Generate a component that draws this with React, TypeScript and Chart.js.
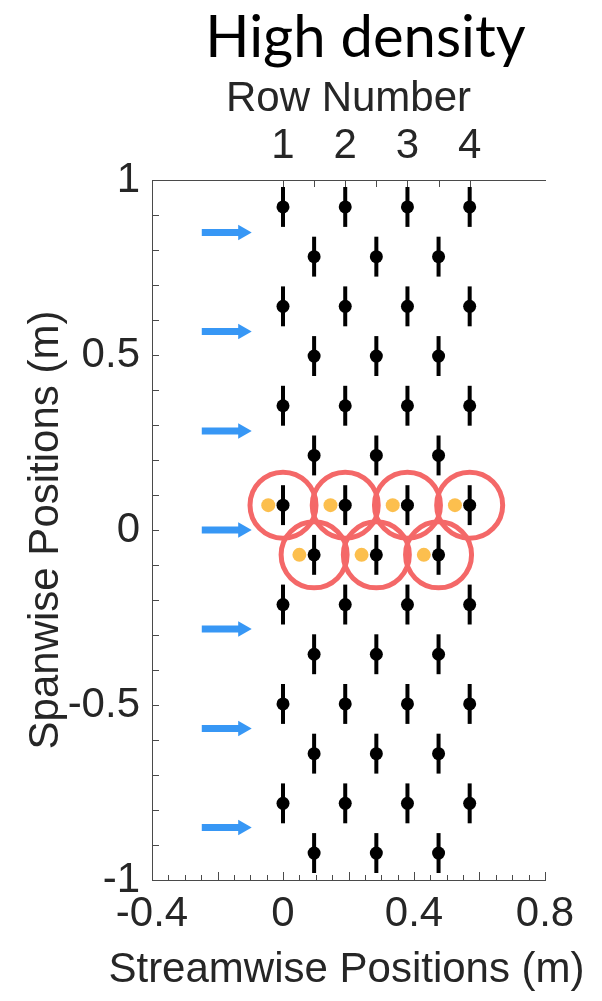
import React, { useEffect, useRef } from "react";
import { Chart, registerables } from "chart.js";

Chart.register(...registerables);

// ---- data ----
const TITLE = "High density";
const TOP_AXIS_TITLE = "Row Number";
const X_AXIS_TITLE = "Streamwise Positions (m)";
const Y_AXIS_TITLE = "Spanwise Positions (m)";

const MAIN_COL_X = [0, 0.19, 0.38, 0.57];
const OFFSET_COL_X = [0.095, 0.285, 0.475];
const MAIN_ROW_Y = [0.923, 0.639, 0.355, 0.071, -0.213, -0.497, -0.781];
const OFFSET_ROW_Y = [0.781, 0.497, 0.213, -0.071, -0.355, -0.639, -0.923];
const BAR_HALF = 0.057;

const ROW_NUMBERS = ["1", "2", "3", "4"];

const ARROW_Y = [0.85, 0.567, 0.283, 0, -0.283, -0.567, -0.85];
const ARROW_X_START = -0.248;
const ARROW_X_SHAFT_END = -0.128;
const ARROW_X_HEAD = -0.123;

const RING_TOP_X = [0, 0.19, 0.38, 0.57];
const RING_TOP_Y = 0.071;
const RING_BOTTOM_X = [0.095, 0.285, 0.475];
const RING_BOTTOM_Y = -0.071;

const YELLOW_TOP_X = [-0.045, 0.145, 0.335, 0.525];
const YELLOW_BOTTOM_X = [0.05, 0.24, 0.43];

const X_MIN = -0.4;
const X_MAX = 0.8;
const Y_MIN = -1;
const Y_MAX = 1;

const X_TICK_VALUES = [-0.4, 0, 0.4, 0.8];
const X_TICK_LABELS = ["-0.4", "0", "0.4", "0.8"];
const Y_TICK_VALUES = [-1, -0.5, 0, 0.5, 1];
const Y_TICK_LABELS = ["-1", "-0.5", "0", "0.5", "1"];

// minor tick grids (every 0.05 on x, 0.1 on y)
const X_MINOR = Array.from({ length: 25 }, (_, i) => (i - 8) / 20);
const Y_MINOR = Array.from({ length: 21 }, (_, i) => (i - 10) / 10);

// ---- style ----
const FONT_FAMILY = "Liberation Sans";
const FONT_SIZE = 42;
const TEXT_COLOR = "#262626";
const AXIS_COLOR = "#4a4a4a";
const BLUE = "#3797f5";
const RED = "#f46868";
const YELLOW = "#fcbf4e";

const near = (a: number, b: number) => Math.abs(a - b) < 1e-9;
const isMultiple = (v: number, step: number) => Math.abs(v / step - Math.round(v / step)) < 1e-6;

const decorations = {
  id: "decorations",
  afterDraw(chart: any) {
    const { ctx, chartArea } = chart;
    const { left, right, top, bottom } = chartArea;
    const xs = chart.scales.x;
    const ys = chart.scales.y;
    const x2 = chart.scales.x2;
    ctx.save();
    // inward tick marks
    ctx.strokeStyle = AXIS_COLOR;
    ctx.lineWidth = 1;
    ctx.beginPath();
    ys.ticks.forEach((t: any) => {
      const py = Math.round(ys.getPixelForValue(t.value)) + 0.5;
      ctx.moveTo(left, py);
      ctx.lineTo(left + 7, py);
    });
    xs.ticks.forEach((t: any) => {
      const px = Math.round(xs.getPixelForValue(t.value)) + 0.5;
      const len = isMultiple(t.value, 0.2) ? 8 : 5;
      ctx.moveTo(px, bottom);
      ctx.lineTo(px, bottom - len);
    });
    x2.ticks.forEach((t: any) => {
      const px = Math.round(x2.getPixelForValue(t.value)) + 0.5;
      ctx.moveTo(px, top);
      ctx.lineTo(px, top + 7);
    });
    ctx.stroke();

    // x-axis title (wider than the plot area, so drawn here without compression)
    ctx.font = `${FONT_SIZE}px ${FONT_FAMILY}`;
    ctx.fillStyle = TEXT_COLOR;
    ctx.textAlign = "center";
    ctx.textBaseline = "alphabetic";
    ctx.fillText(X_AXIS_TITLE, (left + right) / 2 - 2, 974);

    // main title
    ctx.font = "58px Lato, sans-serif";
    ctx.fillStyle = "#000";
    ctx.fillText(TITLE, (left + right) / 2 + 17, 49);
    ctx.restore();
  },
};

export default function App() {
  const ref = useRef<HTMLCanvasElement | null>(null);

  useEffect(() => {
    if (!ref.current) return;

    const blackPoints = [
      ...MAIN_COL_X.flatMap((x) => MAIN_ROW_Y.map((y) => ({ x, y }))),
      ...OFFSET_COL_X.flatMap((x) => OFFSET_ROW_Y.map((y) => ({ x, y }))),
    ];

    const barDatasets = blackPoints.map((p) => ({
      data: [
        { x: p.x, y: p.y - BAR_HALF },
        { x: p.x, y: p.y + BAR_HALF },
      ],
      showLine: true,
      borderColor: "#000",
      borderWidth: 4,
      pointRadius: 0,
      order: 3,
    }));

    const shaftDatasets = ARROW_Y.map((y) => ({
      data: [
        { x: ARROW_X_START, y },
        { x: ARROW_X_SHAFT_END, y },
      ],
      showLine: true,
      borderColor: BLUE,
      borderWidth: 7,
      borderCapStyle: "butt",
      pointRadius: 0,
      order: 1,
    }));

    const rings = [
      ...RING_TOP_X.map((x) => ({ x, y: RING_TOP_Y })),
      ...RING_BOTTOM_X.map((x) => ({ x, y: RING_BOTTOM_Y })),
    ];
    const yellows = [
      ...YELLOW_TOP_X.map((x) => ({ x, y: RING_TOP_Y })),
      ...YELLOW_BOTTOM_X.map((x) => ({ x, y: RING_BOTTOM_Y })),
    ];

    const axisFont = { family: FONT_FAMILY, size: FONT_SIZE };
    Chart.defaults.font.family = FONT_FAMILY;

    const chart = new Chart(ref.current, {
      type: "scatter",
      data: {
        datasets: [
          {
            data: ARROW_Y.map((y) => ({ x: ARROW_X_HEAD, y })),
            pointStyle: "triangle",
            rotation: 90,
            pointRadius: 9,
            backgroundColor: BLUE,
            borderWidth: 0,
            order: 0,
          },
          ...shaftDatasets,
          {
            data: yellows,
            pointRadius: 7,
            backgroundColor: YELLOW,
            borderWidth: 0,
            order: 1,
          },
          {
            data: blackPoints,
            pointRadius: 6.5,
            backgroundColor: "#000",
            borderWidth: 0,
            order: 2,
          },
          ...barDatasets,
          {
            data: rings,
            pointRadius: 33,
            backgroundColor: "rgba(0,0,0,0)",
            borderColor: RED,
            borderWidth: 5,
            order: 4,
          },
        ] as any,
      },
      options: {
        animation: false,
        responsive: true,
        maintainAspectRatio: false,
        events: [],
        font: axisFont,
        layout: { padding: { left: 0, right: 49, top: 0, bottom: 0 } },
        plugins: {
          legend: { display: false },
          tooltip: { enabled: false },
          title: { display: false },
        },
        scales: {
          x: {
            type: "linear",
            position: "bottom",
            min: X_MIN,
            max: X_MAX,
            afterBuildTicks: (s: any) => {
              s.ticks = X_MINOR.map((v) => ({ value: v }));
            },
            afterFit: (s: any) => {
              s.height = 113;
            },
            grid: { display: false, drawTicks: false },
            border: { display: true, color: AXIS_COLOR, width: 1 },
            ticks: {
              autoSkip: false,
              maxRotation: 0,
              minRotation: 0,
              padding: 9,
              color: TEXT_COLOR,
              font: axisFont,
              callback: (v: any) => {
                const i = X_TICK_VALUES.findIndex((t) => near(t, Number(v)));
                return i >= 0 ? X_TICK_LABELS[i] : "";
              },
            },
            title: { display: false },
          },
          x2: {
            type: "linear",
            position: "top",
            min: X_MIN,
            max: X_MAX,
            afterBuildTicks: (s: any) => {
              s.ticks = [...MAIN_COL_X, ...OFFSET_COL_X]
                .sort((a, b) => a - b)
                .map((v) => ({ value: v }));
            },
            afterFit: (s: any) => {
              s.height = 172;
            },
            grid: { display: false, drawTicks: false },
            border: { display: true, color: AXIS_COLOR, width: 1 },
            ticks: {
              autoSkip: false,
              maxRotation: 0,
              minRotation: 0,
              padding: 8,
              color: TEXT_COLOR,
              font: axisFont,
              callback: (v: any) => {
                const i = MAIN_COL_X.findIndex((t) => near(t, Number(v)));
                return i >= 0 ? ROW_NUMBERS[i] : "";
              },
            },
            title: {
              display: true,
              text: TOP_AXIS_TITLE,
              color: TEXT_COLOR,
              font: axisFont,
              padding: { top: 66, bottom: 0 },
            },
          },
          y: {
            type: "linear",
            position: "left",
            min: Y_MIN,
            max: Y_MAX,
            afterBuildTicks: (s: any) => {
              s.ticks = Y_MINOR.map((v) => ({ value: v }));
            },
            afterFit: (s: any) => {
              s.width = 144;
            },
            grid: { display: false, drawTicks: false },
            border: { display: true, color: AXIS_COLOR, width: 1 },
            ticks: {
              autoSkip: false,
              padding: 12,
              color: TEXT_COLOR,
              font: axisFont,
              callback: (v: any) => {
                const i = Y_TICK_VALUES.findIndex((t) => near(t, Number(v)));
                return i >= 0 ? Y_TICK_LABELS[i] : "";
              },
            },
            title: {
              display: true,
              text: Y_AXIS_TITLE,
              color: TEXT_COLOR,
              font: axisFont,
              padding: { top: 13, bottom: 0 },
            },
          },
        },
      } as any,
      plugins: [decorations],
    });

    return () => chart.destroy();
  }, []);

  return (
    <div style={{ width: 586, height: 985, position: "relative" }}>
      <canvas ref={ref} />
    </div>
  );
}
